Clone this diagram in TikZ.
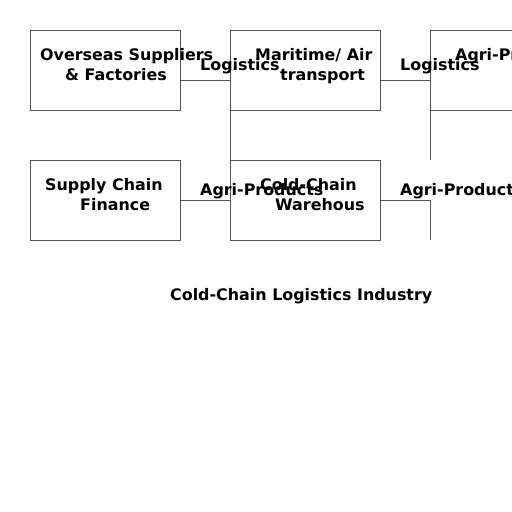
\documentclass[tikz,border=0pt]{standalone}
\usepackage{fontspec}
\setmainfont{DejaVu Sans}
\begin{document}
\begin{tikzpicture}[x=1pt,y=-1pt,
  box/.style={draw=linegray,line width=1pt,minimum width=150pt,minimum height=80pt,inner sep=0pt,anchor=north west},
  txt/.style={anchor=base west,inner sep=0pt,font=\fontsize{15.9}{18}\selectfont\bfseries},
  conn/.style={draw=linegray,line width=1pt}]
\definecolor{linegray}{HTML}{555555}
\useasboundingbox (0,0) rectangle (512,512);
\clip (0,0) rectangle (512,512);
\fill[white] (0,0) rectangle (512,512);
% boxes
\node[box] (ov) at (30,30) {};
\node[box] (mt) at (230,30) {};
\node[box] (ap) at (430,30) {};
\node[box] (scf) at (30,160) {};
\node[box] (cw) at (230,160) {};
\coordinate (e2) at (430,160);
\coordinate (e4) at (430,240);
% connectors
\draw[conn] ([yshift=-10pt]ov.east) -| (cw.north west);
\draw[conn] ([yshift=-10pt]mt.east) -| (e2);
\draw[conn] (scf.east) -| (cw.south west);
\draw[conn] (cw.east) -| (e4);
% box texts
\node[txt] (ov1) at (40,60.5) {Overseas Suppliers};
\node[txt] (ov2) at (65,80.5) {\& Factories};
\node[txt] (mt1) at (255,60.5) {Maritime/ Air};
\node[txt] (mt2) at (280,80.5) {transport};
\node[txt] (ap1) at (455,60.5) {Agri-Products};
\node[txt] (scf1) at (45,190.5) {Supply Chain};
\node[txt] (scf2) at (80,210.5) {Finance};
\node[txt] (cw1) at (260,190.5) {Cold-Chain};
\node[txt] (cw2) at (275,210.5) {Warehous};
% connector labels
\node[txt] (l1) at (200,70.5) {Logistics};
\node[txt] (l2) at (400,70.5) {Logistics};
\node[txt] (l3) at (200,195.5) {Agri-Products};
\node[txt] (l4) at (400,195.5) {Agri-Products};
% title
\node[txt] (title) at (170,300.5) {Cold-Chain Logistics Industry};
\end{tikzpicture}
\end{document}
